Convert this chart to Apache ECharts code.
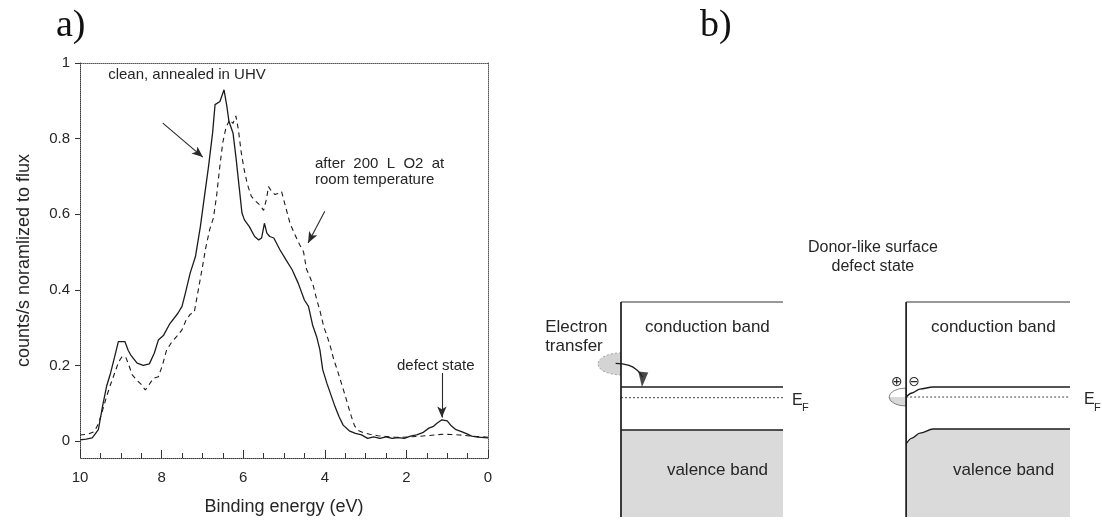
<!DOCTYPE html>
<html><head><meta charset="utf-8">
<script src="https://cdn.jsdelivr.net/npm/echarts@6/dist/echarts.min.js"></script>
<style>html,body{margin:0;padding:0;background:#fff}#c{width:1102px;height:525px}</style>
</head><body><div id="c"></div><script>
// ---- panel a data (binding energy in eV, counts/s normalized to flux) ----
const energyClean = [10.0, 9.85, 9.7, 9.55, 9.45, 9.35, 9.25, 9.15, 9.06, 8.9,
  8.82, 8.76, 8.72, 8.6, 8.45, 8.3, 8.18, 8.08, 7.95, 7.8,
  7.6, 7.5, 7.42, 7.3, 7.17, 7.05, 6.95, 6.85, 6.75, 6.69,
  6.57, 6.47, 6.4, 6.35, 6.25, 6.18, 6.1, 6.03, 5.97, 5.85,
  5.72, 5.62, 5.55, 5.48, 5.42, 5.35, 5.25, 5.1, 4.95, 4.8,
  4.65, 4.5, 4.4, 4.3, 4.2, 4.12, 4.05, 3.95, 3.85, 3.75,
  3.65, 3.55, 3.4, 3.25, 3.1, 2.95, 2.8, 2.65, 2.5, 2.35,
  2.2, 2.05, 1.9, 1.75, 1.6, 1.45, 1.35, 1.25, 1.13, 1.0,
  0.9, 0.8, 0.65, 0.5, 0.4, 0.25, 0.0];
const countsClean = [0.003, 0.005, 0.008, 0.03, 0.09, 0.144, 0.18, 0.223, 0.263, 0.263,
  0.24, 0.228, 0.232, 0.206, 0.2, 0.204, 0.232, 0.267, 0.28, 0.31,
  0.338, 0.356, 0.39, 0.444, 0.488, 0.567, 0.647, 0.726, 0.815, 0.89,
  0.898, 0.929, 0.885, 0.846, 0.815, 0.753, 0.673, 0.603, 0.585, 0.567,
  0.541, 0.532, 0.537, 0.576, 0.55, 0.541, 0.537, 0.506, 0.479, 0.453,
  0.417, 0.373, 0.356, 0.307, 0.276, 0.241, 0.188, 0.153, 0.122, 0.091,
  0.064, 0.042, 0.027, 0.02, 0.016, 0.007, 0.011, 0.007, 0.011, 0.007,
  0.009, 0.007, 0.013, 0.016, 0.022, 0.034, 0.038, 0.047, 0.056, 0.053,
  0.04, 0.031, 0.025, 0.018, 0.013, 0.01, 0.008];
const energyO2 = [10.0, 9.8, 9.65, 9.55, 9.45, 9.35, 9.25, 9.15, 9.05, 8.97,
  8.88, 8.8, 8.72, 8.6, 8.5, 8.4, 8.3, 8.2, 8.08, 7.98,
  7.88, 7.75, 7.6, 7.5, 7.4, 7.3, 7.2, 7.1, 7.0, 6.92,
  6.82, 6.73, 6.65, 6.58, 6.5, 6.42, 6.33, 6.25, 6.18, 6.12,
  6.05, 5.98, 5.9, 5.8, 5.7, 5.6, 5.5, 5.43, 5.38, 5.3,
  5.22, 5.15, 5.06, 4.95, 4.85, 4.75, 4.62, 4.52, 4.45, 4.35,
  4.28, 4.2, 4.12, 4.02, 3.95, 3.85, 3.78, 3.7, 3.6, 3.5,
  3.42, 3.35, 3.27, 3.18, 3.05, 2.9, 2.7, 2.5, 2.3, 2.1,
  1.9, 1.7, 1.5, 1.3, 1.1, 0.9, 0.7, 0.5, 0.3, 0.0];
const countsO2 = [0.016, 0.018, 0.025, 0.045, 0.08, 0.117, 0.15, 0.18, 0.21, 0.223,
  0.222, 0.2, 0.175, 0.16, 0.15, 0.135, 0.15, 0.166, 0.17, 0.2,
  0.24, 0.262, 0.28, 0.294, 0.32, 0.335, 0.34, 0.4, 0.46, 0.51,
  0.56, 0.59, 0.65, 0.72, 0.79, 0.83, 0.85, 0.84, 0.86, 0.825,
  0.765, 0.72, 0.68, 0.647, 0.635, 0.625, 0.61, 0.64, 0.673, 0.66,
  0.652, 0.655, 0.66, 0.615, 0.575, 0.55, 0.52, 0.5, 0.455, 0.43,
  0.41, 0.375, 0.345, 0.3, 0.28, 0.245, 0.215, 0.19, 0.155, 0.12,
  0.09, 0.065, 0.04, 0.028, 0.022, 0.018, 0.014, 0.012, 0.01, 0.01,
  0.011, 0.012, 0.014, 0.016, 0.018, 0.017, 0.016, 0.014, 0.012, 0.01];
const xRange = [0, 10];
const yRange = [-0.045, 1];

// ---- panel b schematic (depth units, energy units) ----
const diagXRange = [-3, 16.63];
const leftBulkX = [0, 6];
const rightBulkX = [10.56, 16.63];
const levelTop = 10, levelCB = 6.05, levelEF = 5.55, levelVB = 4.05;
const bendX  = [10.56, 10.78, 11.07, 11.56, 16.63];
const bendCB = [5.58, 5.77, 5.95, 6.05, 6.05];
const bendVB = [3.40, 3.67, 3.90, 4.09, 4.09];
const transferX = [-0.2, 0.3, 0.62, 0.8];
const transferY = [7.15, 7.05, 6.8, 6.5];

const pair = (xs, ys) => xs.map((x, i) => [x, ys[i]]);
const INK = '#1c1c1c', TXT = '#262626', FONT = '"Liberation Sans", Arial, sans-serif';

const chart = echarts.init(document.getElementById('c'), null, {renderer: 'canvas'});

const lineB = (name, data, extra) => Object.assign({
  type: 'line', name, xAxisIndex: 2, yAxisIndex: 2, data, showSymbol: false, symbol: 'none',
  silent: true, clip: false, lineStyle: {color: INK, width: 1.4}, z: 3
}, extra || {});

const halfEllipse = 'path://M10,0 A10,10 0 0 0 10,20 Z';

const option = {
  animation: false,
  backgroundColor: '#fff',
  textStyle: {fontFamily: FONT},
  grid: [
    {left: 80, top: 63, width: 408, height: 395},
    {left: 540, top: 302, width: 530, height: 215}
  ],
  xAxis: [
    {type: 'value', gridIndex: 0, min: xRange[0], max: xRange[1], interval: 2, inverse: true,
     position: 'bottom',
     axisLine: {onZero: false, lineStyle: {color: '#333', width: 1, type: 'dotted'}},
     axisTick: {inside: true, length: 8, lineStyle: {color: '#333'}},
     minorTick: {show: true, splitNumber: 4, length: 5, lineStyle: {color: '#333'}},
     splitLine: {show: false},
     axisLabel: {color: TXT, fontSize: 15, margin: 12, fontFamily: FONT},
     name: 'Binding energy (eV)', nameLocation: 'middle', nameGap: 40,
     nameTextStyle: {color: TXT, fontSize: 18, fontFamily: FONT}},
    {type: 'value', gridIndex: 0, min: xRange[0], max: xRange[1], inverse: true, position: 'top',
     axisLine: {onZero: false, lineStyle: {color: '#555', width: 1, type: 'dotted'}},
     axisTick: {show: false}, axisLabel: {show: false}, splitLine: {show: false}},
    {type: 'value', gridIndex: 1, min: diagXRange[0], max: diagXRange[1], show: false}
  ],
  yAxis: [
    {type: 'value', gridIndex: 0, min: yRange[0], max: yRange[1],
     axisLine: {show: true, onZero: false, lineStyle: {color: '#333', width: 1, type: 'dotted'}},
     axisTick: {show: true, length: 5, lineStyle: {color: '#333'}},
     splitLine: {show: false},
     axisLabel: {color: TXT, fontSize: 15, margin: 10, showMinLabel: false, fontFamily: FONT},
     name: 'counts/s noramlized to flux', nameLocation: 'middle', nameGap: 47,
     nameTextStyle: {color: TXT, fontSize: 18, fontFamily: FONT}},
    {type: 'value', gridIndex: 0, min: yRange[0], max: yRange[1], position: 'right',
     axisLine: {show: true, onZero: false, lineStyle: {color: '#555', width: 1, type: 'dotted'}},
     axisTick: {show: false}, axisLabel: {show: false}, splitLine: {show: false}},
    {type: 'value', gridIndex: 1, min: 0, max: levelTop, show: false}
  ],
  series: [
    {type: 'line', name: 'clean, annealed in UHV', xAxisIndex: 0, yAxisIndex: 0,
     data: pair(energyClean, countsClean), showSymbol: false, symbol: 'none', silent: true,
     lineStyle: {color: INK, width: 1.3},
     markLine: {silent: true, symbol: ['none', 'arrow'], symbolSize: [7, 11],
       label: {show: false}, lineStyle: {color: '#2a2a2a', width: 1.1, type: 'solid'},
       data: [
         [{coord: [7.97, 0.841]}, {coord: [6.99, 0.751]}],
         [{coord: [4.0, 0.608]}, {coord: [4.41, 0.524]}],
         [{coord: [1.13, 0.18]}, {coord: [1.13, 0.062]}]
       ]}},
    {type: 'line', name: 'after 200 L O2 at room temperature', xAxisIndex: 0, yAxisIndex: 0,
     data: pair(energyO2, countsO2), showSymbol: false, symbol: 'none', silent: true,
     lineStyle: {color: INK, width: 1.1, type: [5, 4]}},

    // ---- panel b, left diagram ----
    lineB('left VB', [[leftBulkX[0], levelVB], [leftBulkX[1], levelVB]],
      {areaStyle: {color: '#dadada', opacity: 1, origin: 'start'}}),
    lineB('left surface', [[0, 0], [0, levelTop]], {lineStyle: {color: INK, width: 1.7}, z: 5}),
    lineB('left top', [[leftBulkX[0], levelTop], [leftBulkX[1], levelTop]], {lineStyle: {color: '#333', width: 1}}),
    lineB('left CB', [[leftBulkX[0], levelCB], [leftBulkX[1], levelCB]]),
    lineB('left EF', [[leftBulkX[0], levelEF], [leftBulkX[1], levelEF]], {lineStyle: {color: '#444', width: 1, type: [2, 2]}}),
    // electron-transfer arrow
    lineB('transfer', pair(transferX, transferY), {smooth: 0.5, lineStyle: {color: INK, width: 1.3}, z: 6}),
    {type: 'scatter', xAxisIndex: 2, yAxisIndex: 2, silent: true, clip: false, z: 6,
     data: [[transferX[3], levelCB]], symbol: 'triangle', symbolRotate: 175, symbolSize: [10, 15],
     symbolOffset: [0, '-50%'], itemStyle: {color: INK}},

    // ---- panel b, right diagram ----
    lineB('right VB', pair(bendX, bendVB), {smooth: 0.35, smoothMonotone: 'x',
      areaStyle: {color: '#dadada', opacity: 1, origin: 'start'}}),
    lineB('right surface', [[rightBulkX[0], 0], [rightBulkX[0], levelTop]], {lineStyle: {color: INK, width: 1.7}, z: 5}),
    lineB('right top', [[rightBulkX[0], levelTop], [rightBulkX[1], levelTop]], {lineStyle: {color: '#333', width: 1}}),
    lineB('right CB', pair(bendX, bendCB), {smooth: 0.35, smoothMonotone: 'x'}),
    lineB('right EF', [[rightBulkX[0], 5.58], [rightBulkX[1], 5.58]], {lineStyle: {color: '#444', width: 1, type: [2, 2]}}),

    // surface defect states (half ellipses at the surface)
    {type: 'scatter', xAxisIndex: 2, yAxisIndex: 2, silent: true, clip: false, z: 2,
     data: [[0, 7.12]], symbol: halfEllipse, symbolSize: [23, 22], symbolOffset: ['-50%', 0],
     itemStyle: {color: '#c9c9c9', borderColor: '#777', borderWidth: 0.8, borderType: [2, 2]}},
    {type: 'scatter', xAxisIndex: 2, yAxisIndex: 2, silent: true, clip: false, z: 2,
     data: [[rightBulkX[0], 5.58]], symbol: halfEllipse, symbolSize: [17, 18], symbolOffset: ['-50%', 0],
     itemStyle: {
       color: new echarts.graphic.LinearGradient(0, 0, 0, 1, [
         {offset: 0, color: '#ffffff'}, {offset: 0.5, color: '#ffffff'},
         {offset: 0.5, color: '#cfcfcf'}, {offset: 1, color: '#cfcfcf'}]),
       borderColor: '#555', borderWidth: 0.9}}
  ]
};
chart.setOption(option);

// ---- text annotations placed through the axes' scales ----
const toA = p => chart.convertToPixel({xAxisIndex: 0, yAxisIndex: 0}, p);
const toB = p => chart.convertToPixel({xAxisIndex: 2, yAxisIndex: 2}, p);
const txt = (pt, text, size, align, family) => ({
  type: 'text', x: pt[0], y: pt[1], silent: true, z: 10,
  style: {text, fill: TXT, fontSize: size, fontFamily: family || FONT,
    align: align || 'left', textAlign: align || 'left', verticalAlign: 'middle', textVerticalAlign: 'middle'}
});
const SERIF = '"Liberation Serif", "Times New Roman", serif';

const graphics = [
  {type: 'text', left: 56, top: 7, silent: true,
   style: {text: 'a)', fill: '#111', fontSize: 38, fontFamily: SERIF}},
  {type: 'text', left: 700, top: 7, silent: true,
   style: {text: 'b)', fill: '#111', fontSize: 38, fontFamily: SERIF}},
  txt(toA([9.31, 0.968]), 'clean, annealed in UHV', 15),
  txt(toA([4.24, 0.733]), 'after  200  L  O2  at', 15),
  txt(toA([4.24, 0.690]), 'room temperature', 15),
  txt(toA([2.23, 0.198]), 'defect state', 15),

  txt(toB([9.33, 12.51]), 'Donor-like surface', 16, 'center'),
  txt(toB([9.33, 11.67]), 'defect state', 16, 'center'),
  txt(toB([0.89, 8.84]), 'conduction band', 17),
  txt(toB([11.48, 8.84]), 'conduction band', 17),
  txt(toB([1.70, 2.19]), 'valence band', 17),
  txt(toB([12.30, 2.19]), 'valence band', 17),
  txt(toB([-2.81, 8.84]), 'Electron', 17),
  txt(toB([-2.81, 7.95]), 'transfer', 17),
  txt(toB([6.33, 5.42]), 'E', 16),
  txt(toB([6.70, 5.05]), 'F', 11),
  txt(toB([17.15, 5.44]), 'E', 16),
  txt(toB([17.52, 5.07]), 'F', 11),
  txt(toB([10.22, 6.28]), '⊕', 14, 'center', '"DejaVu Sans", sans-serif'),
  txt(toB([10.86, 6.28]), '⊖', 14, 'center', '"DejaVu Sans", sans-serif')
];
chart.setOption({graphic: graphics});
</script></body></html>
